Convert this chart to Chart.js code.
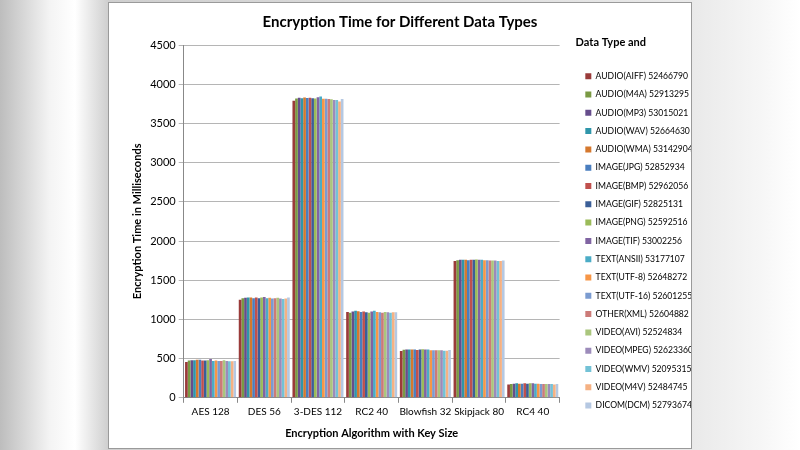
<!DOCTYPE html>
<html>
<head>
<meta charset="utf-8">
<script src="https://cdn.jsdelivr.net/npm/chart.js@4/dist/chart.umd.min.js"></script>
<style>
  html, body { margin: 0; padding: 0; }
  body {
    width: 800px; height: 450px; overflow: hidden; position: relative;
    background: linear-gradient(90deg, #bdbdbd 0px, #f4f4f4 50px, #ffffff 75px, #cfcfcf 108px, #e9e9e9 691px, #f6f6f6 760px, #ffffff 800px);
  }
  #box {
    position: absolute; left: 108px; top: 2px; width: 582px; height: 445px;
    background: #fff; border: 1px solid #9a9a9a;
  }
</style>
</head>
<body>
<div id="box"><canvas id="myChart"></canvas></div>
<script>
// Algorithms (x axis)
const algorithms = ['AES 128', 'DES 56', '3-DES 112', 'RC2 40', 'Blowfish 32', 'Skipjack 80', 'RC4 40']

// Data types (legend)
const dataTypes = [
    'AUDIO(AIFF) 52466790', 'AUDIO(M4A) 52913295', 'AUDIO(MP3) 53015021', 'AUDIO(WAV) 52664630',
    'AUDIO(WMA) 53142904', 'IMAGE(JPG) 52852934', 'IMAGE(BMP) 52962056', 'IMAGE(GIF) 52825131',
    'IMAGE(PNG) 52592516', 'IMAGE(TIF) 53002256', 'TEXT(ANSII) 53177107', 'TEXT(UTF-8) 52648272',
    'TEXT(UTF-16) 52601255', 'OTHER(XML) 52604882', 'VIDEO(AVI) 52524834', 'VIDEO(MPEG) 52623360',
    'VIDEO(WMV) 52095315', 'VIDEO(M4V) 52484745', 'DICOM(DCM) 52793674'
]

// Encryption time in ms, one array per algorithm, in data type order
const aes128 = [458, 475, 480, 480, 485, 485, 475, 475, 480, 495, 470, 475, 470, 470, 480, 470, 465, 465, 470]
const des56 = [1252, 1270, 1275, 1280, 1280, 1270, 1278, 1270, 1280, 1285, 1270, 1275, 1265, 1270, 1275, 1265, 1260, 1265, 1278]
const tripleDes112 = [3790, 3818, 3826, 3822, 3830, 3825, 3826, 3820, 3818, 3832, 3843, 3815, 3815, 3810, 3808, 3800, 3797, 3780, 3810]
const rc2_40 = [1095, 1085, 1100, 1110, 1105, 1095, 1100, 1090, 1085, 1100, 1110, 1095, 1090, 1085, 1095, 1090, 1085, 1090, 1090]
const blowfish32 = [598, 612, 615, 615, 615, 615, 610, 615, 620, 615, 615, 605, 605, 605, 605, 605, 600, 600, 610]
const skipjack80 = [1745, 1755, 1760, 1760, 1760, 1755, 1760, 1760, 1765, 1760, 1760, 1755, 1755, 1750, 1750, 1750, 1745, 1745, 1750]
const rc4_40 = [170, 175, 180, 185, 180, 180, 185, 180, 185, 185, 180, 180, 175, 175, 175, 175, 175, 170, 175]

const colors = [
    '#9a3b3a', '#7a9a44', '#664d8c', '#2f96aa', '#d5782e', '#4a7ebf', '#c0504d', '#3b5f98',
    '#9bbb59', '#8064a2', '#4bacc6', '#f79646', '#7b9bd0', '#cc7b78', '#aac67d', '#9c8bba',
    '#73c2d6', '#f5b183', '#b5c8e2'
]

const byAlgorithm = [aes128, des56, tripleDes112, rc2_40, blowfish32, skipjack80, rc4_40]

const datasets = []
for (let i = 0; i < dataTypes.length; i++) {
    datasets.push({
        label: dataTypes[i],
        data: byAlgorithm.map(a => a[i]),
        backgroundColor: colors[i],
        borderWidth: 0,
        barPercentage: 1,
        categoryPercentage: 0.95
    })
}

// push the legend a bit to the right, away from the plot (like the Excel original)
const legendShift = {
    id: 'legendShift',
    afterLayout(chart) {
        if (chart.legend) {
            chart.legend.left += 16
            chart.legend.right += 16
        }
    }
}

const font = "Lato, 'Liberation Sans', sans-serif"
Chart.defaults.font.family = font
Chart.defaults.color = '#000'

const ctx = document.getElementById('myChart').getContext('2d')
const myChart = new Chart(ctx, {
    type: 'bar',
    data: { labels: algorithms, datasets: datasets },
    plugins: [legendShift],
    options: {
        responsive: true,
        maintainAspectRatio: false,
        animation: false,
        layout: { padding: { left: 4, right: 4, top: 6, bottom: 4 } },
        plugins: {
            title: {
                display: true,
                text: 'Encryption Time for Different Data Types',
                font: { size: 15, weight: 'bold' },
                padding: { top: 4, bottom: 14 }
            },
            legend: {
                position: 'right',
                align: 'start',
                title: {
                    display: true,
                    text: 'Data Type and',
                    position: 'start',
                    font: { size: 11, weight: 'bold' },
                    padding: { top: 28, bottom: 12 }
                },
                labels: {
                    boxWidth: 6,
                    boxHeight: 6,
                    padding: 9.7,
                    font: { size: 8.6 }
                }
            },
            tooltip: { enabled: false }
        },
        scales: {
            x: {
                grid: { display: true, drawOnChartArea: false, color: '#888', tickLength: 5, offset: true },
                border: { color: '#888' },
                ticks: { font: { size: 10 }, maxRotation: 0, autoSkip: false },
                title: {
                    display: true,
                    text: 'Encryption Algorithm with Key Size',
                    font: { size: 11, weight: 'bold' },
                    padding: { top: 6 }
                }
            },
            y: {
                min: 0,
                max: 4500,
                ticks: { stepSize: 500, font: { size: 11 }, callback: v => String(v) },
                grid: { color: '#b5b5b5', tickLength: 5 },
                border: { color: '#888' },
                title: {
                    display: true,
                    text: 'Encryption Time in Milliseconds',
                    font: { size: 11, weight: 'bold' },
                    padding: { top: 18, bottom: 3 }
                }
            }
        }
    }
})
</script>
</body>
</html>
